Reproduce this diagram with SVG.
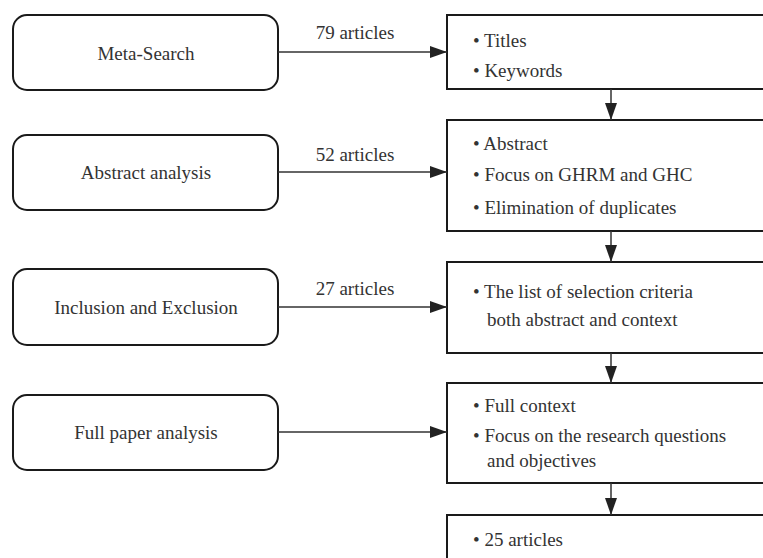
<svg xmlns="http://www.w3.org/2000/svg" width="763" height="558" viewBox="0 0 763 558">
<defs>
<marker id="ah" markerUnits="userSpaceOnUse" markerWidth="18" markerHeight="12" refX="17" refY="6" orient="auto">
<path d="M0,0 L17,6 L0,12 Z" fill="#222"/>
</marker>
</defs>
<g id="n1"><rect fill="#fff" stroke="#1a1a1a" stroke-width="2" x="13" y="15" width="265" height="75" rx="14"/><text style="font-family:'Liberation Serif','Times New Roman',serif;font-size:19px;fill:#333" text-anchor="middle" x="146" y="60">Meta-Search</text></g>
<g id="n2"><rect fill="#fff" stroke="#1a1a1a" stroke-width="2" x="13" y="135" width="265" height="75" rx="14"/><text style="font-family:'Liberation Serif','Times New Roman',serif;font-size:19px;fill:#333" text-anchor="middle" x="146" y="179">Abstract analysis</text></g>
<g id="n3"><rect fill="#fff" stroke="#1a1a1a" stroke-width="2" x="13" y="269" width="265" height="76" rx="14"/><text style="font-family:'Liberation Serif','Times New Roman',serif;font-size:19px;fill:#333" text-anchor="middle" x="146" y="314">Inclusion and Exclusion</text></g>
<g id="n4"><rect fill="#fff" stroke="#1a1a1a" stroke-width="2" x="13" y="395" width="265" height="75" rx="14"/><text style="font-family:'Liberation Serif','Times New Roman',serif;font-size:19px;fill:#333" text-anchor="middle" x="146" y="439">Full paper analysis</text></g>
<g id="r1"><rect fill="#fff" stroke="#1a1a1a" stroke-width="2" x="447" y="15" width="330" height="74"/><text style="font-family:'Liberation Serif','Times New Roman',serif;font-size:19px;fill:#333" x="473" y="47">• Titles</text><text style="font-family:'Liberation Serif','Times New Roman',serif;font-size:19px;fill:#333" x="473" y="77">• Keywords</text></g>
<g id="r2"><rect fill="#fff" stroke="#1a1a1a" stroke-width="2" x="447" y="120" width="330" height="111"/><text style="font-family:'Liberation Serif','Times New Roman',serif;font-size:19px;fill:#333" x="473" y="150">• Abstract</text><text style="font-family:'Liberation Serif','Times New Roman',serif;font-size:19px;fill:#333" x="473" y="181">• Focus on GHRM and GHC</text><text style="font-family:'Liberation Serif','Times New Roman',serif;font-size:19px;fill:#333" x="473" y="214">• Elimination of duplicates</text></g>
<g id="r3"><rect fill="#fff" stroke="#1a1a1a" stroke-width="2" x="447" y="262" width="330" height="91"/><text style="font-family:'Liberation Serif','Times New Roman',serif;font-size:19px;fill:#333" x="473" y="298">• The list of selection criteria</text><text style="font-family:'Liberation Serif','Times New Roman',serif;font-size:19px;fill:#333" x="487" y="326">both abstract and context</text></g>
<g id="r4"><rect fill="#fff" stroke="#1a1a1a" stroke-width="2" x="447" y="383" width="330" height="100"/><text style="font-family:'Liberation Serif','Times New Roman',serif;font-size:19px;fill:#333" x="473" y="412">• Full context</text><text style="font-family:'Liberation Serif','Times New Roman',serif;font-size:19px;fill:#333" x="473" y="442">• Focus on the research questions</text><text style="font-family:'Liberation Serif','Times New Roman',serif;font-size:19px;fill:#333" x="487" y="467">and objectives</text></g>
<g id="r5"><rect fill="#fff" stroke="#1a1a1a" stroke-width="2" x="447" y="515" width="330" height="60"/><text style="font-family:'Liberation Serif','Times New Roman',serif;font-size:19px;fill:#333" x="473" y="546">• 25 articles</text></g>
<g id="connectors" stroke="#333" stroke-width="1.5" fill="none">
<line x1="278" y1="52" x2="447" y2="52" marker-end="url(#ah)"/>
<line x1="278" y1="172" x2="447" y2="172" marker-end="url(#ah)"/>
<line x1="278" y1="307" x2="447" y2="307" marker-end="url(#ah)"/>
<line x1="278" y1="432" x2="447" y2="432" marker-end="url(#ah)"/>
<line x1="611" y1="89" x2="611" y2="120" marker-end="url(#ah)"/>
<line x1="611" y1="231" x2="611" y2="262" marker-end="url(#ah)"/>
<line x1="611" y1="353" x2="611" y2="383" marker-end="url(#ah)"/>
<line x1="611" y1="483" x2="611" y2="515" marker-end="url(#ah)"/>
<text style="font-family:'Liberation Serif','Times New Roman',serif;font-size:19px;fill:#333;stroke:none" text-anchor="middle" x="355" y="39">79 articles</text>
<text style="font-family:'Liberation Serif','Times New Roman',serif;font-size:19px;fill:#333;stroke:none" text-anchor="middle" x="355" y="161">52 articles</text>
<text style="font-family:'Liberation Serif','Times New Roman',serif;font-size:19px;fill:#333;stroke:none" text-anchor="middle" x="355" y="295">27 articles</text>
</g>
</svg>
